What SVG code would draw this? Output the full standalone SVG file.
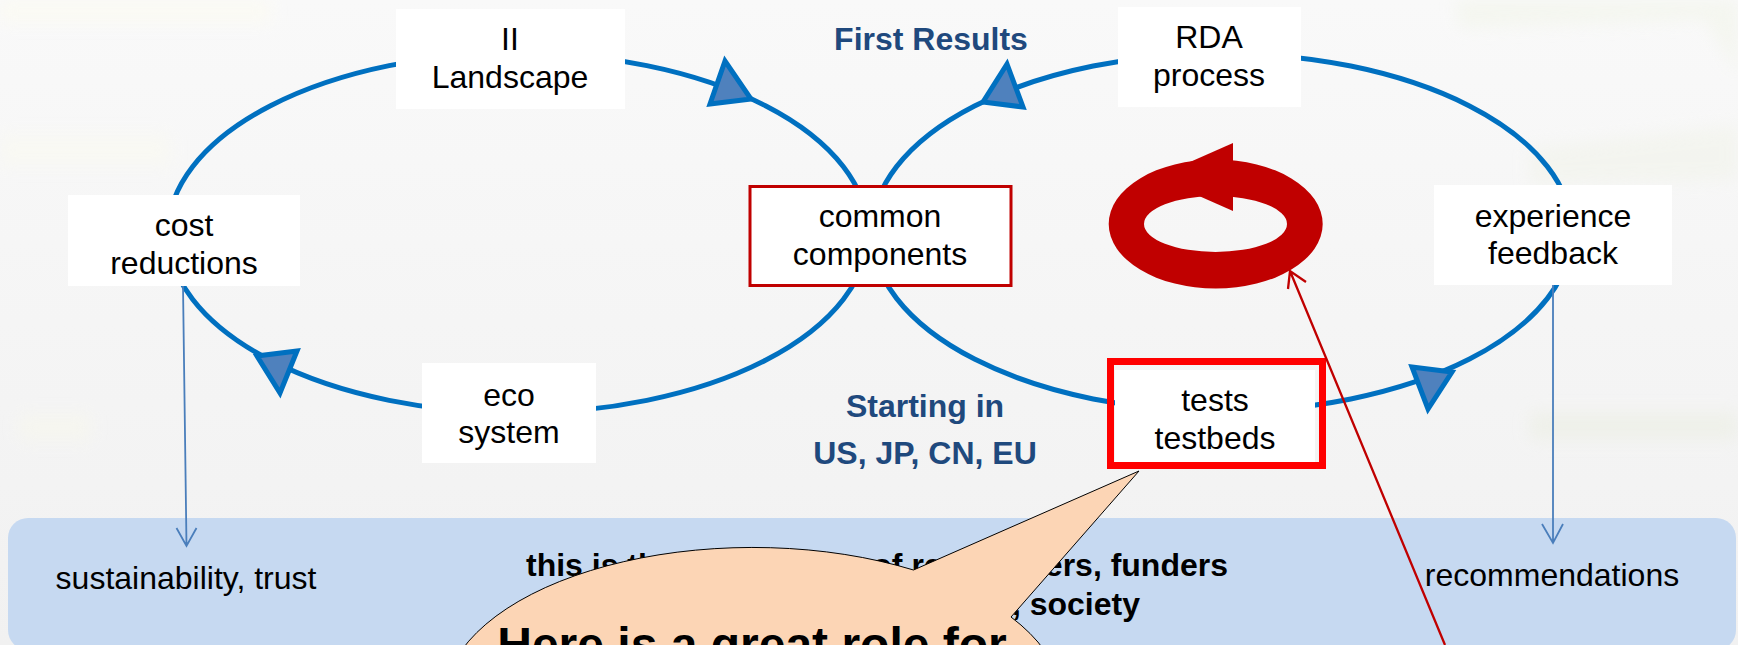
<svg xmlns="http://www.w3.org/2000/svg" width="1738" height="645" viewBox="0 0 1738 645">
<style>
text{font-family:"Liberation Sans",Arial,sans-serif;font-size:32px;fill:#000;text-anchor:middle}
.h{font-weight:bold;fill:#1F497D}
.b{font-weight:bold}
.box{fill:#fff}
.loop{fill:none;stroke:#0070C0;stroke-width:5}
.tri{fill:#4F81BD;stroke:#0070C0;stroke-width:5;stroke-linejoin:miter}
.drop{fill:none;stroke:#4A7EBB;stroke-width:1.8}
.red{fill:none;stroke:#C00000;stroke-width:2.3}
</style>
<defs>
<linearGradient id="bg" x1="0" y1="0" x2="0" y2="1"><stop offset="0" stop-color="#F9F9F9"/><stop offset="1" stop-color="#F1F1F1"/></linearGradient>
<filter id="soft" x="-20%" y="-50%" width="140%" height="200%"><feGaussianBlur stdDeviation="8"/></filter>
</defs>
<rect width="1738" height="645" fill="url(#bg)"/>
<g id="backdrop" filter="url(#soft)" opacity="0.55">
<rect x="0" y="0" width="270" height="22" fill="#FDFCEF"/>
<rect x="0" y="135" width="170" height="30" fill="#FAFAF0"/>
<rect x="20" y="415" width="70" height="25" fill="#F8F8EC"/>
<polygon points="1455,0 1738,0 1738,75 1705,20 1460,28" fill="#F1F4E8"/>
<polygon points="1530,148 1738,125 1738,180 1530,185" fill="#F1F3E9"/>
<rect x="1530" y="412" width="208" height="28" fill="#EBEEE2"/>
</g>
<rect id="band" x="8" y="518" width="1728" height="132" rx="20" fill="#C6D9F1"/>
<g id="connectors">
<ellipse class="loop" cx="518" cy="233" rx="350" ry="180"/>
<ellipse class="loop" cx="1222" cy="232.500" rx="350" ry="179"/>
<polygon class="tri" points="725,61 710,104 751,99"/>
<polygon class="tri" points="1007,64 983,102 1023,107"/>
<polygon class="tri" points="297,351 257,356 280,393"/>
<polygon class="tri" points="1412,367 1452,372 1428,409"/>
<path class="drop" d="M183,286L186.500,546M176.500,528L186.500,546L196.500,528"/>
<path class="drop" d="M1553,285V543M1542,524L1553,543L1563,524"/>
</g>
<g id="band-text">
<text x="186" y="589">sustainability, trust</text>
<text x="1552" y="586">recommendations</text>
<text class="b" x="526" y="576" style="text-anchor:start">this is the</text>
<text class="b" x="1228" y="576" style="text-anchor:end">of researchers, funders</text>
<text class="b" x="1140" y="615" style="text-anchor:end">, society</text>
</g>
<g id="ii-landscape"><rect class="box" x="396" y="9" width="229" height="100"/><text x="510" y="50">II</text><text x="510" y="88">Landscape</text></g>
<g id="cost-reductions"><rect class="box" x="68" y="195" width="232" height="91"/><text x="184" y="236">cost</text><text x="184" y="274">reductions</text></g>
<g id="common-components"><rect x="750" y="186.500" width="261" height="99" fill="#fff" stroke="#C00000" stroke-width="3"/><text x="880" y="227">common</text><text x="880" y="265">components</text></g>
<g id="rda-process"><rect class="box" x="1118" y="7" width="183" height="100"/><text x="1209" y="48">RDA</text><text x="1209" y="86">process</text></g>
<g id="experience-feedback"><rect class="box" x="1434" y="185" width="238" height="100"/><text x="1553" y="227">experience</text><text x="1553" y="264">feedback</text></g>
<g id="eco-system"><rect class="box" x="422" y="363" width="174" height="100"/><text x="509" y="406">eco</text><text x="509" y="443">system</text></g>
<g id="tests-testbeds"><rect class="box" x="1115" y="370" width="200" height="94"/><rect x="1110.500" y="361.500" width="212" height="104" fill="none" stroke="#FF0000" stroke-width="7"/><text x="1215" y="411">tests</text><text x="1215" y="449">testbeds</text></g>
<g id="first-results"><text class="h" x="931" y="50">First Results</text></g>
<g id="starting-in"><text class="h" x="925" y="417">Starting in</text><text class="h" x="925" y="464">US, JP, CN, EU</text></g>
<g id="cycle">
<path fill="#C00000" fill-rule="evenodd" d="M1108.700,224a107,64.500 0 1,0 214,0a107,64.500 0 1,0 -214,0ZM1144,224a71.500,28 0 1,0 143,0a71.500,28 0 1,0 -143,0Z"/>
<polygon fill="#C00000" points="1233,143 1156,177 1233,211"/>
</g>
<path id="red-pointer" class="red" d="M1445,645L1290,271M1288,289L1290,271L1306,282"/>
<g id="callout">
<path d="M913.500,570L1139,471L1011,617A310,156 0 1,1 913.500,570Z" fill="#FCD5B5" stroke="#000" stroke-width="1"/>
<text class="b" x="752" y="661" style="font-size:48px">Here is a great role for</text>
</g>
</svg>
